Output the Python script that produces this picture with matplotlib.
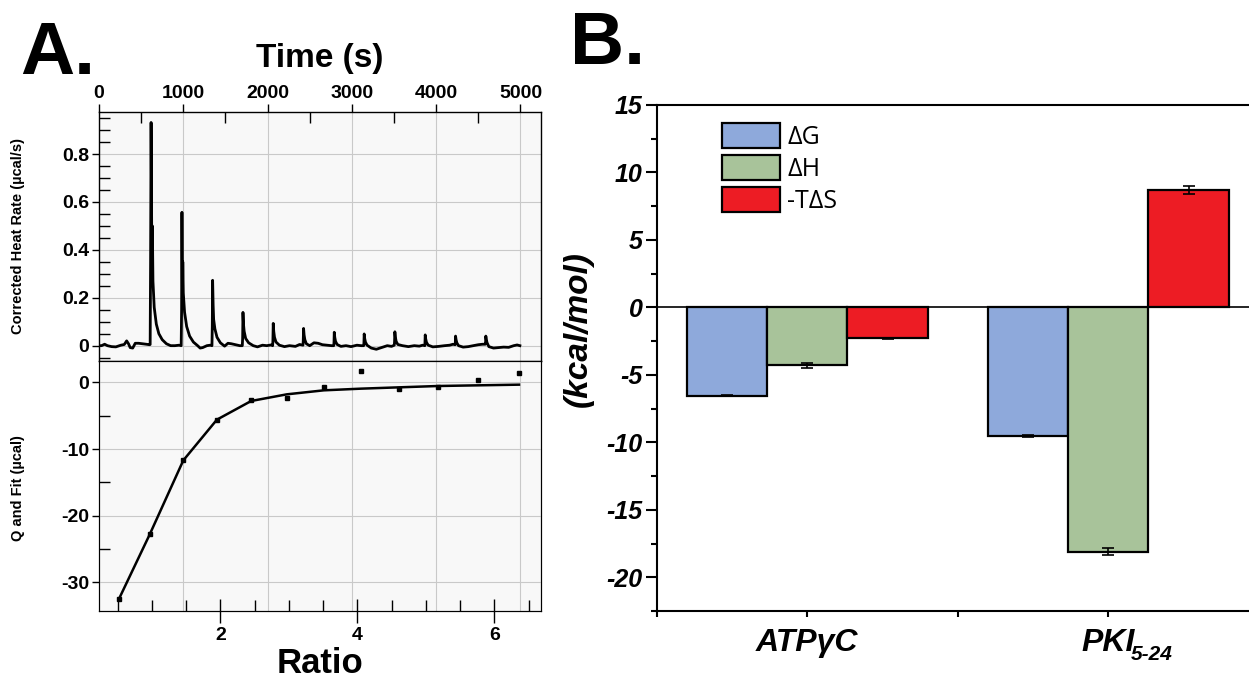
import matplotlib
matplotlib.use('Agg')
import matplotlib.pyplot as plt
from matplotlib.ticker import MultipleLocator, FormatStrFormatter
import numpy as np

# --- Panel A (top): raw ITC thermogram
heat_time = [0, 30, 67, 100, 150, 200, 260, 300, 328, 350, 370, 400, 430, 470, 520, 560, 600,
             607, 612, 618, 624, 628, 633, 640, 655, 680, 710, 750, 800, 850, 900, 950, 975,
             980, 984, 990, 994, 1000, 1015, 1040, 1075, 1120, 1170, 1200, 1230, 1280, 1320, 1340,
             1344, 1348, 1354, 1360, 1375, 1400, 1440, 1490, 1530, 1570, 1620, 1670, 1700,
             1704, 1708, 1714, 1722, 1740, 1775, 1830, 1880, 1940, 1990, 2040, 2060,
             2063, 2067, 2073, 2082, 2100, 2140, 2200, 2260, 2330, 2380, 2420,
             2423, 2427, 2433, 2442, 2460, 2500, 2550, 2600, 2650, 2700, 2760, 2785,
             2788, 2791, 2797, 2806, 2825, 2870, 2930, 2990, 3060, 3110, 3140,
             3143, 3146, 3152, 3161, 3180, 3230, 3290, 3350, 3420, 3470, 3503,
             3506, 3510, 3516, 3525, 3545, 3600, 3670, 3740, 3800, 3840, 3865,
             3867, 3870, 3876, 3885, 3905, 3960, 4030, 4100, 4160, 4200, 4225,
             4227, 4230, 4236, 4245, 4265, 4320, 4380, 4440, 4500, 4550, 4583,
             4586, 4589, 4595, 4604, 4625, 4680, 4740, 4800, 4860, 4920, 4960, 4993]
heat_rate = [0.0, 0.0, 0.006, 0.0, -0.004, -0.005, 0.002, 0.005, 0.02, 0.008, -0.008, -0.01, 0.01, 0.01, 0.008, 0.006, 0.004,
             0.005, 0.35, 0.932, 0.5, 0.3, 0.5, 0.27, 0.16, 0.09, 0.05, 0.025, 0.008, 0.0, 0.0, 0.002, 0.0,
             0.15, 0.557, 0.2, 0.35, 0.22, 0.14, 0.08, 0.04, 0.015, 0.0, -0.01, -0.008, 0.0, 0.002, 0.0,
             0.08, 0.273, 0.17, 0.11, 0.07, 0.035, 0.012, -0.002, 0.01, 0.008, 0.004, 0.0, 0.0,
             0.03, 0.139, 0.09, 0.06, 0.03, 0.012, 0.0, -0.005, 0.002, 0.0, 0.003, 0.0,
             0.02, 0.093, 0.06, 0.035, 0.015, 0.002, -0.004, 0.0, -0.003, 0.005, 0.002,
             0.02, 0.072, 0.045, 0.025, 0.008, 0.0, 0.012, 0.01, 0.004, 0.002, 0.0, 0.0,
             0.015, 0.056, 0.035, 0.018, 0.005, -0.003, 0.0, -0.004, 0.002, 0.0, 0.0,
             0.012, 0.049, 0.03, 0.015, 0.002, -0.01, -0.015, -0.008, 0.0, -0.003, 0.002,
             0.015, 0.058, 0.036, 0.018, 0.005, 0.0, -0.004, 0.0, -0.002, 0.002, 0.0,
             0.012, 0.045, 0.028, 0.014, 0.002, -0.005, -0.003, 0.0, 0.002, 0.006, 0.004,
             0.012, 0.04, 0.025, 0.012, 0.0, -0.006, -0.004, 0.0, 0.004, 0.006, 0.006,
             0.012, 0.04, 0.025, 0.012, -0.004, -0.01, -0.008, -0.006, -0.007, 0.0, 0.003, 0.0]

# --- Panel A (bottom): integrated heats and fit
ratio = [0.52, 0.97, 1.46, 1.95, 2.45, 2.97, 3.51, 4.05, 4.61, 5.18, 5.76, 6.36]
q_heat = [-32.5, -22.8, -11.65, -5.65, -2.65, -2.4, -0.7, 1.65, -1.0, -0.7, 0.4, 1.35]
q_fit = [-32.5, -22.8, -11.7, -5.6, -2.8, -1.8, -1.2, -0.95, -0.75, -0.55, -0.45, -0.35]

# --- Panel B: thermodynamic parameters (kcal/mol)
ligands = ['ATPγC', 'PKI']
dG = [-6.53, -9.52]
dG_err = [0.06, 0.05]
dH = [-4.28, -18.1]
dH_err = [0.18, 0.28]
mTdS = [-2.3, 8.69]
mTdS_err = [0.05, 0.28]

plt.rcParams['font.family'] = ['Liberation Sans', 'DejaVu Sans']
plt.rcParams['font.weight'] = 'bold'
plt.rcParams['axes.unicode_minus'] = False

W, H = 1249, 678
fig = plt.figure(figsize=(W / 100, H / 100), dpi=100)


def box(l, t, r, b):
    return [l / W, 1 - b / H, (r - l) / W, (b - t) / H]


grid_c = '#c9c9c9'
bg_c = '#f8f8f8'

# ---------- panel A top: thermogram
ax_t = fig.add_axes(box(99, 111.7, 540.7, 361), label='thermo')
ax_t.set_facecolor(bg_c)
ax_t.plot(heat_time, heat_rate, color='black', lw=2.0)
ax_t.set_xlim(0, 5240)
ax_t.set_ylim(-0.064, 0.977)
ax_t.xaxis.tick_top()
ax_t.set_xticks(range(0, 5001, 1000))
ax_t.xaxis.set_minor_locator(MultipleLocator(500))
ax_t.set_yticks([0, 0.2, 0.4, 0.6, 0.8])
ax_t.yaxis.set_major_formatter(FormatStrFormatter('%g'))
ax_t.yaxis.set_minor_locator(MultipleLocator(0.05))
ax_t.tick_params(axis='x', which='major', direction='out', length=6, width=1, pad=1, labelsize=14)
ax_t.tick_params(axis='x', which='minor', direction='in', length=8, width=1)
ax_t.tick_params(axis='y', which='major', direction='out', length=5, width=1, pad=2, labelsize=14)
ax_t.tick_params(axis='y', which='minor', direction='in', length=8, width=1)
ax_t.grid(True, which='major', color=grid_c, lw=0.8)
ax_t.set_axisbelow(True)
for s in ax_t.spines.values():
    s.set_linewidth(1)

# ---------- panel A bottom: isotherm (time grid drawn underneath)
ax_g = fig.add_axes(box(99, 361, 540.7, 611), label='timegrid')
ax_g.set_facecolor(bg_c)
ax_g.set_xlim(0, 5240)
ax_g.set_xticks(range(1000, 5001, 1000))
ax_g.set_yticks([])
ax_g.tick_params(length=0, labelbottom=False)
ax_g.grid(True, axis='x', color=grid_c, lw=0.8)

ax_b = fig.add_axes(box(99, 361, 540.7, 611), label='iso')
ax_b.set_facecolor('none')
ax_b.plot(ratio, q_fit, color='black', lw=1.8)
ax_b.plot(ratio, q_heat, ls='none', marker='s', ms=3.5, color='black')
ax_b.set_xlim(0.229, 6.677)
ax_b.set_ylim(-34.3, 3.2)
ax_b.set_xticks([2, 4, 6])
ax_b.xaxis.set_minor_locator(MultipleLocator(0.5))
ax_b.set_yticks([-30, -20, -10, 0])
ax_b.yaxis.set_minor_locator(MultipleLocator(5))
ax_b.tick_params(axis='x', which='major', direction='inout', length=17, width=1, pad=3, labelsize=14)
ax_b.tick_params(axis='x', which='minor', direction='in', length=8, width=1)
ax_b.tick_params(axis='y', which='major', direction='out', length=5, width=1, pad=2, labelsize=14)
ax_b.tick_params(axis='y', which='minor', direction='in', length=8, width=1)
ax_b.grid(True, axis='y', color=grid_c, lw=0.8)
ax_b.set_axisbelow(True)

fig.text(20 / W, 1 - 74 / H, 'A.', fontsize=54, va='baseline')
fig.text(320 / W, 1 - 67 / H, 'Time (s)', fontsize=24, ha='center', va='baseline')
fig.text(320 / W, 1 - 673 / H, 'Ratio', fontsize=25, ha='center', va='baseline')
fig.text(18 / W, 1 - 236 / H, 'Corrected Heat Rate (µcal/s)', rotation=90,
         fontsize=10.5, ha='center', va='center')
fig.text(18 / W, 1 - 488 / H, 'Q and Fit (µcal)', rotation=90,
         fontsize=10.5, ha='center', va='center')

# ---------- panel B: bar chart
ax = fig.add_axes(box(656.7, 105, 1258.8, 611), label='bars')
x = np.arange(len(ligands))
w = 0.8 / 3
ekw = dict(elinewidth=1.2, capthick=1.2, ecolor='black')
ax.bar(x - w, dG, w, yerr=dG_err, color='#8EA9DB', edgecolor='black', lw=1.6,
       capsize=4, error_kw=ekw, label='ΔG', zorder=2)
ax.bar(x, dH, w, yerr=dH_err, color='#A8C39A', edgecolor='black', lw=1.6,
       capsize=4, error_kw=ekw, label='ΔH', zorder=2)
ax.bar(x + w, mTdS, w, yerr=mTdS_err, color='#ED1C24', edgecolor='black', lw=1.6,
       capsize=4, error_kw=ekw, label='-TΔS', zorder=2)
ax.axhline(0, color='black', lw=1.2, zorder=3)
ax.set_xlim(-0.5, 1.5)
ax.set_ylim(-22.5, 15)
ax.set_yticks(range(-20, 16, 5))
ax.yaxis.set_minor_locator(MultipleLocator(2.5))
ax.set_xticks(x)
ax.set_xticklabels(['', ''])
ax.set_xticks([-0.5, 0.5, 1.5], minor=True)
ax.tick_params(axis='y', which='major', direction='out', length=8, width=1.5, pad=2, labelsize=18)
ax.tick_params(axis='y', which='minor', direction='out', length=4, width=1.5)
ax.tick_params(axis='x', which='both', direction='out', length=4, width=1.5)
for lbl in ax.get_yticklabels():
    lbl.set_fontstyle('italic')
for s in ax.spines.values():
    s.set_linewidth(1.5)

lab_kw = dict(xycoords=('data', 'axes fraction'), textcoords='offset points',
              ha='center', va='top', fontsize=23, fontweight='bold', fontstyle='italic',
              annotation_clip=False)
ax.annotate(ligands[0], xy=(0, 0), xytext=(0, -12), **lab_kw)
pki = ax.annotate(ligands[1], xy=(1, 0), xytext=(0, -12), **lab_kw)
ax.annotate('5-24', xy=(1, 0), xycoords=pki, xytext=(-3, 2), textcoords='offset points',
            ha='left', va='center', fontsize=15, fontweight='bold', fontstyle='italic',
            annotation_clip=False)

ax.legend(loc='upper left', bbox_to_anchor=(0.109, 0.964), frameon=False,
          borderpad=0, borderaxespad=0, handlelength=2.3, handleheight=1.15,
          labelspacing=0.2, handletextpad=0.3,
          prop=dict(family='Open Sans', weight='normal', size=18))

fig.text(578 / W, 1 - 329 / H, '(kcal/mol)', rotation=90, fontsize=24,
         fontstyle='italic', ha='center', va='center')
fig.text(570 / W, 1 - 64 / H, 'B.', fontsize=54, va='baseline')

fig.savefig('out.png', dpi=100)
